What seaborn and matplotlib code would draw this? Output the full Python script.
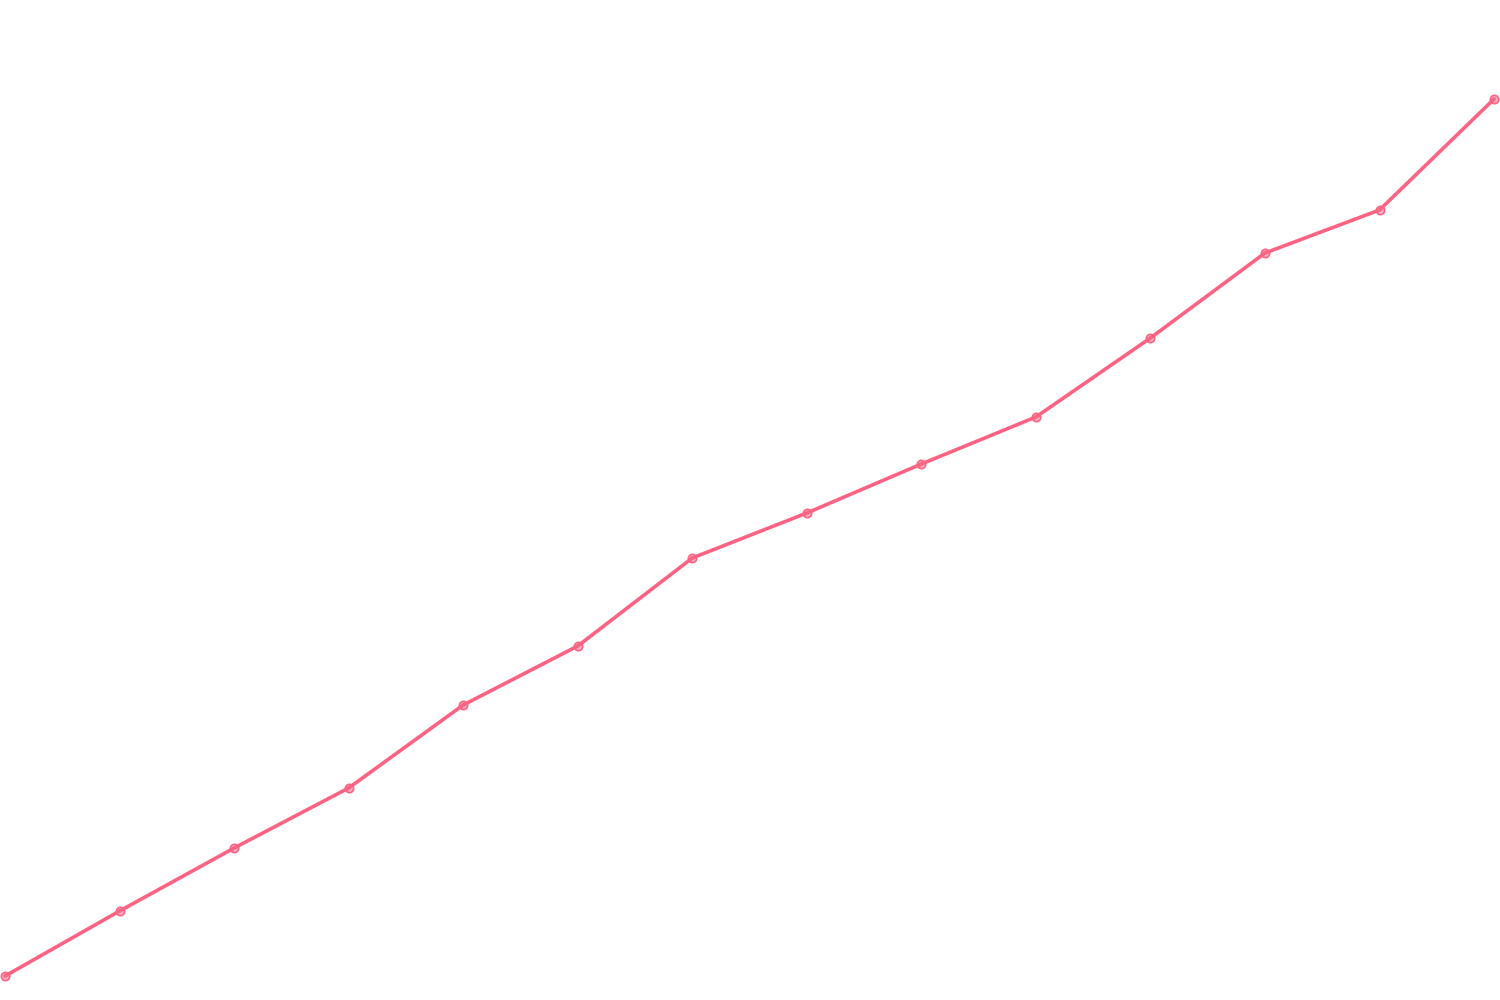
import pandas as pd
import matplotlib
matplotlib.use("Agg")
import matplotlib.pyplot as plt
import seaborn as sns

# values (no axes shown, so arbitrary units)
steps = list(range(14))
values = [24, 89, 152, 212, 295, 354, 442, 487, 536, 583, 662, 747, 790, 901]

df = pd.DataFrame({"step": steps, "value": values})

sns.set_style("white")
fig = plt.figure(figsize=(15, 10), dpi=100)
ax = fig.add_axes([0, 0, 1, 1])

sns.lineplot(data=df, x="step", y="value", ax=ax, color="#ff6384", linewidth=2.6,
             marker="o", markersize=6, markerfacecolor=(1, 0.39, 0.52, 0.5),
             markeredgecolor="#ff6384", markeredgewidth=1.2)

ax.set_xlim(-0.044, 13.052)
ax.set_ylim(0, 1000)
ax.axis("off")

fig.savefig("out.png", dpi=100, facecolor="white")
